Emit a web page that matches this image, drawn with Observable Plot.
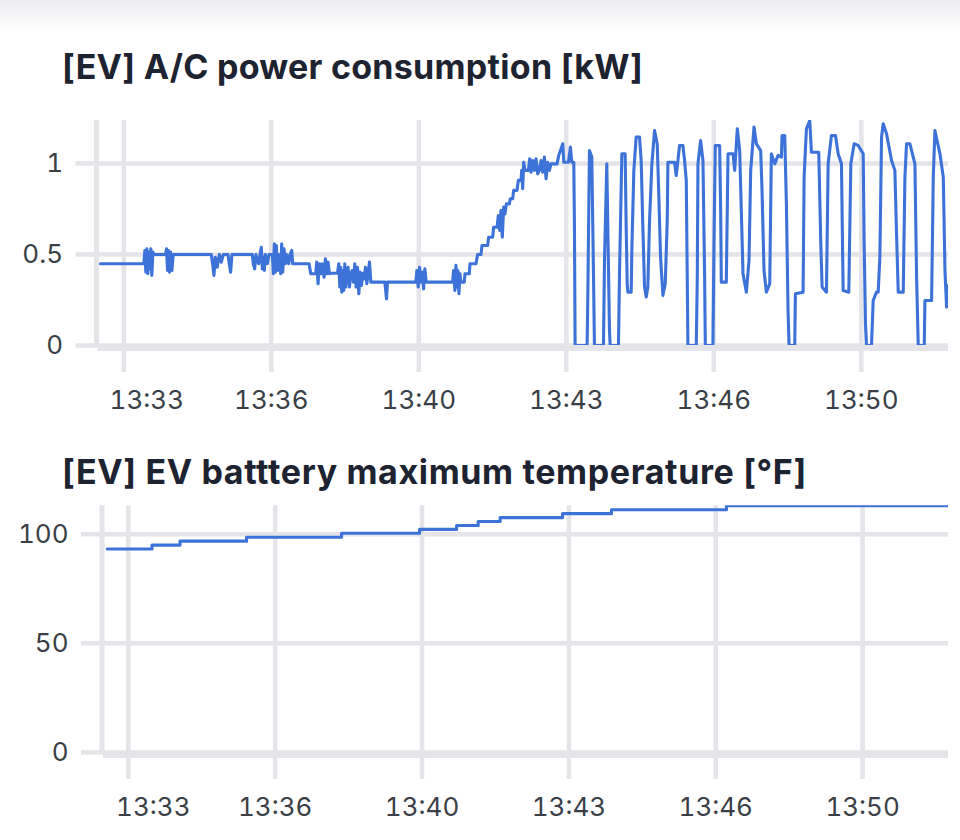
<!DOCTYPE html>
<html><head><meta charset="utf-8">
<script src="https://cdn.jsdelivr.net/npm/d3@7"></script>
<script src="https://cdn.jsdelivr.net/npm/@observablehq/plot@0.6"></script>
<style>
html,body{margin:0;padding:0;background:#fff;}
body{width:960px;height:840px;position:relative;overflow:hidden;font-family:Inter,"Noto Sans",sans-serif;}
.shade{position:absolute;left:0;top:0;width:960px;height:34px;background:linear-gradient(#ededf0,#ffffff);}
.title{position:absolute;left:62px;font-size:34px;font-weight:700;line-height:34px;color:#1d2330;white-space:nowrap;}
#t1{top:50px;letter-spacing:0.27px}
#t2{top:455px;letter-spacing:0.63px}
#c1{position:absolute;left:0;top:100px}
#c2{position:absolute;left:0;top:490px}
</style></head>
<body>
<div class="shade"></div>
<div class="title" id="t1"></div>
<div class="title" id="t2"></div>
<div id="c1"></div>
<div id="c2"></div>
<script>
// ---- data (time = minutes past 13:00) ----
const titleAC = "[EV] A/C power consumption [kW]";
const titleTemp = "[EV] EV batttery maximum temperature [°F]";

const acTime = [32.805,33.786,33.809,33.831,33.854,33.876,33.899,33.922,33.944,33.967,33.990,34.012,34.276,34.299,34.321,34.344,34.367,34.389,34.420,34.450,35.310,35.340,35.370,35.400,35.445,35.491,35.536,35.581,35.687,35.717,35.747,35.777,36.237,36.260,36.290,36.320,36.351,36.381,36.411,36.441,36.464,36.486,36.509,36.532,36.577,36.615,36.690,36.713,36.735,36.758,36.781,36.803,36.833,36.879,36.901,36.924,36.954,36.984,37.014,37.060,37.090,37.128,37.150,37.180,37.520,37.558,37.671,37.693,37.723,37.754,37.784,37.814,37.859,37.889,37.920,37.950,37.980,38.010,38.161,38.191,38.214,38.236,38.259,38.282,38.304,38.327,38.350,38.372,38.402,38.433,38.463,38.493,38.523,38.553,38.583,38.614,38.644,38.674,38.704,38.734,38.764,38.795,38.825,38.855,38.885,38.915,39.232,39.270,39.292,39.934,39.956,39.986,40.017,40.047,40.077,40.107,40.137,40.167,40.198,40.763,40.786,40.816,40.839,40.861,40.884,40.907,40.929,40.952,41.027,41.043,41.141,41.156,41.291,41.329,41.405,41.427,41.555,41.578,41.669,41.691,41.767,41.797,41.827,41.857,41.887,41.917,41.948,41.978,42.046,42.068,42.121,42.144,42.219,42.249,42.310,42.325,42.347,42.370,42.400,42.476,42.506,42.536,42.574,42.611,42.649,42.687,42.725,42.762,42.800,42.838,42.875,42.913,42.951,42.989,43.124,43.162,
43.253,43.275,43.381,43.426,43.456,43.502,43.517,43.532,43.803,43.818,43.856,43.909,43.947,43.969,44.173,44.196,44.248,44.271,44.309,44.324,44.512,44.535,44.588,44.663,44.686,44.709,44.724,44.799,44.814,44.859,44.912,44.988,45.025,45.063,45.101,45.139,45.176,45.214,45.267,45.327,45.387,45.418,45.463,45.516,45.569,45.614,45.629,45.780,45.817,45.855,45.893,45.968,46.006,46.044,46.066,46.081,46.270,46.293,46.308,46.368,46.421,46.459,46.474,46.647,46.670,46.700,46.798,46.821,46.836,46.949,46.987,47.100,47.138,47.198,47.251,47.288,47.326,47.402,47.462,47.500,47.575,47.628,47.726,47.756,47.801,47.854,47.930,47.967,48.043,48.118,48.194,48.209,48.269,48.307,48.344,48.367,48.495,48.510,48.684,48.707,48.759,48.835,48.872,49.038,49.084,49.114,49.212,49.250,49.325,49.416,49.476,49.551,49.589,49.717,49.763,49.838,49.928,50.042,50.064,50.094,50.117,50.230,50.268,50.343,50.381,50.419,50.457,50.494,50.570,50.683,50.758,50.796,50.834,50.947,50.985,51.022,51.098,51.211,51.249,51.286,51.422,51.437,51.588,51.626,51.663,51.777,51.852,51.890,51.927,51.965];

const acPower = [0.449,0.449,0.522,0.403,0.531,0.394,0.513,0.421,0.531,0.385,0.513,0.500,0.500,0.531,0.412,0.522,0.403,0.513,0.412,0.500,0.500,0.449,0.385,0.485,0.430,0.500,0.458,0.500,0.500,0.449,0.403,0.500,0.500,0.449,0.421,0.500,0.467,0.449,0.500,0.540,0.421,0.485,0.412,0.500,0.449,0.500,0.500,0.394,0.559,0.403,0.549,0.412,0.500,0.394,0.559,0.403,0.531,0.449,0.500,0.449,0.500,0.522,0.449,0.449,0.449,0.394,0.394,0.458,0.339,0.449,0.394,0.449,0.375,0.476,0.394,0.458,0.394,0.397,0.397,0.449,0.321,0.430,0.293,0.412,0.302,0.449,0.321,0.394,0.430,0.321,0.394,0.412,0.348,0.449,0.321,0.430,0.284,0.403,0.330,0.397,0.366,0.430,0.339,0.397,0.458,0.348,0.348,0.256,0.348,0.348,0.412,0.321,0.430,0.348,0.403,0.311,0.421,0.348,0.348,0.348,0.412,0.302,0.440,0.321,0.412,0.284,0.394,0.348,0.348,0.394,0.394,0.449,0.449,0.500,0.500,0.549,0.549,0.595,0.595,0.650,0.650,0.714,0.632,0.742,0.595,0.760,0.723,0.778,0.778,0.806,0.806,0.852,0.852,0.907,0.907,0.962,0.861,1.007,0.962,0.962,1.026,0.952,1.016,0.962,1.026,0.943,0.962,1.016,0.952,1.035,0.916,1.007,0.962,0.998,0.998,1.044,
1.108,1.007,1.007,1.090,1.007,1.007,0.650,0,0,0.247,1.071,1.035,0.394,0,0,0.467,0.998,0.650,0.082,0,0,0.394,1.053,1.053,0.650,0.339,0.293,0.293,0.522,0.962,1.145,1.145,1.016,0.650,0.321,0.266,0.321,0.687,0.998,1.181,1.108,0.870,0.485,0.275,0.339,0.687,1.007,1.007,0.934,1.016,1.099,1.099,1.016,0.907,0.375,0,0,0.375,0.998,1.126,1.016,0.375,0,0,0.559,1.099,1.099,0.742,0.348,0.348,1.053,1.053,0.962,1.190,1.071,0.742,0.394,0.293,0.467,0.962,1.200,1.108,1.071,0.852,0.412,0.293,0.339,1.053,0.998,1.044,1.035,1.154,1.154,0.778,0.192,0,0,0.284,0.293,0.925,1.190,1.236,1.062,1.062,0.559,0.321,0.293,0.998,1.154,1.154,1.053,0.998,0.302,0.293,0.998,1.108,1.099,1.053,0.559,0.119,0,0,0.247,0.293,0.293,0.485,1.145,1.218,1.163,1.016,0.962,0.614,0.293,0.293,0.925,1.108,1.108,0.998,0.375,0,0,0.247,0.247,0.925,1.181,1.053,0.925,0.412,0.211,0.330];

const tempTime  = [32.854, 33.871, 34.507, 36.017, 38.174, 39.945, 40.785, 41.274, 41.773, 43.190, 44.300, 46.910, 51.950];
const tempValue = [93.2, 95.0, 96.8, 98.6, 100.4, 102.2, 104.0, 105.8, 107.6, 109.4, 111.2, 113.0, 113.0];

const xTickTimes = ["13:33:20", "13:36:40", "13:40:00", "13:43:20", "13:46:40", "13:50:00"];
const acYTicks = [0, 0.5, 1];
const tempYTicks = [0, 50, 100];

// ---- helpers ----
const parse = d3.timeParse("%Y-%m-%d %H:%M:%S");
const base = parse("2024-01-01 13:00:00");
const at = m => new Date(base.getTime() + m * 60000);
const xTicks = xTickTimes.map(s => parse("2024-01-01 " + s));
const fmt = d3.timeFormat("%H:%M");

const acData = acTime.map((m, i) => ({t: at(m), v: acPower[i]}));
const tempData = tempTime.map((m, i) => ({t: at(m), v: tempValue[i]}));

const GRID = "#e4e4e9", BLUE = "#3d73d9", TXT = "#3a3f47";

document.getElementById("t1").textContent = titleAC;
document.getElementById("t2").textContent = titleTemp;

function chart({data, xDomain, yDomain, yTicks, height, marginLeft, marginTop, marginBottom, curve, firstDx}) {
  return Plot.plot({
    width: 960, height, marginLeft, marginRight: 12, marginTop, marginBottom,
    style: {fontFamily: "Inter, 'Noto Sans', sans-serif", background: "transparent", overflow: "visible"},
    x: {type: "time", domain: xDomain},
    y: {domain: yDomain},
    marks: [
      Plot.ruleY(yTicks, {stroke: GRID, strokeWidth: 4.5}),
      Plot.ruleX(xTicks, {stroke: GRID, strokeWidth: 4.5}),
      Plot.ruleY([yDomain[0]], {stroke: GRID, strokeWidth: 5, dy: 3}),
      Plot.ruleX([xDomain[0]], {stroke: GRID, strokeWidth: 5, dx: -1.5}),
      // tick extensions below the frame
      Plot.axisX(xTicks, {tickSize: 27, stroke: GRID, strokeWidth: 4.5, tickFormat: () => "", label: null}),
      // tick labels (first one nudged right, as in the reference)
      Plot.axisX(xTicks.slice(1), {tickSize: 0, tickPadding: 45, tickFormat: fmt, fontSize: 26, fill: TXT, label: null}),
      Plot.axisX(xTicks.slice(0, 1), {tickSize: 0, tickPadding: 45, tickFormat: fmt, fontSize: 26, fill: TXT, label: null, dx: firstDx}),
      Plot.axisY(yTicks, {tickSize: 22, tickPadding: 13, stroke: GRID, strokeWidth: 4.5,
        tickFormat: d => String(d), fontSize: 26, fill: TXT, label: null}),
      Plot.line(data, {x: "t", y: "v", stroke: BLUE, strokeWidth: 3.1, curve, clip: true, strokeLinejoin: "round"})
    ]
  });
}

document.getElementById("c1").append(chart({
  data: acData, xDomain: [at(32.75), at(51.97)], yDomain: [0, 1.236], yTicks: acYTicks,
  height: 320, marginLeft: 97.5, marginTop: 20, marginBottom: 75, curve: "linear", firstDx: 23
}));

document.getElementById("c2").append(chart({
  data: tempData, xDomain: [at(32.77), at(51.95)], yDomain: [0, 113], yTicks: tempYTicks,
  height: 332, marginLeft: 103, marginTop: 15.3, marginBottom: 70, curve: "step-after", firstDx: 25
}));
</script>
</body></html>
